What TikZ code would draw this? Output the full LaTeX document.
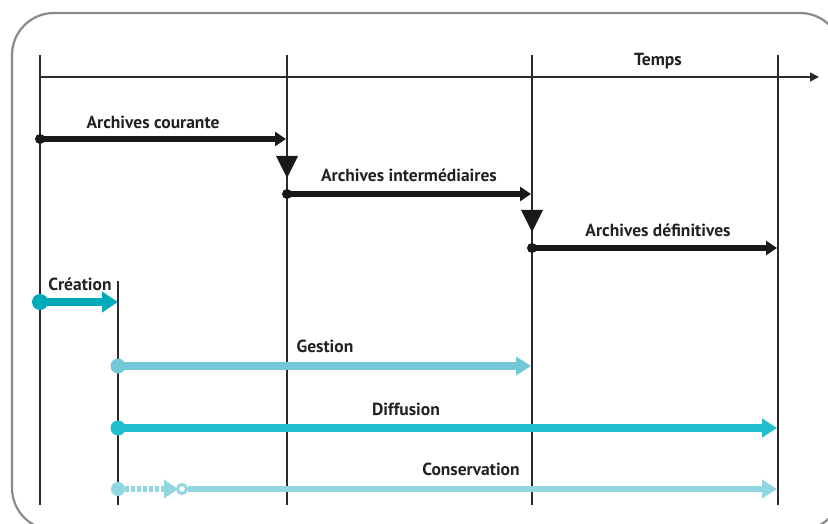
\documentclass[tikz,border=0pt]{standalone}
\usepackage{fontspec}
\setmainfont{PT Sans}
\usetikzlibrary{arrows.meta}
\definecolor{lineC}{HTML}{2B2B2B}
\definecolor{txtC}{HTML}{222222}
\definecolor{frameC}{HTML}{8A8A8A}
\definecolor{creaC}{HTML}{00AAB9}
\definecolor{gestC}{HTML}{73C8D7}
\definecolor{diffC}{HTML}{1EBECD}
\definecolor{consC}{HTML}{91D7E1}
\tikzset{
  vline/.style={draw=lineC, line width=1.5pt},
  lbl/.style={font=\bfseries\fontsize{17.5}{20}\selectfont, text=txtC, inner sep=0pt},
  blackarr/.style={draw=black!90, line width=6pt, -{Triangle[length=11pt,width=14pt]}},
  tealarr/.style={line width=7.5pt, -{Triangle[length=16pt,width=20pt]}},
  drop/.style={fill=black!90, draw=none},
}
\begin{document}
\begin{tikzpicture}[x=1pt,y=-1pt]
\useasboundingbox (0,0) rectangle (828,524);
% frame
\draw[frameC, line width=2.2pt, rounded corners=42pt] (12,13) rectangle (842,530);
% vertical lines
\coordinate (v1t) at (40,55);  \coordinate (v1b) at (40,505);
\coordinate (v2t) at (287,55); \coordinate (v2b) at (287,505);
\coordinate (v3t) at (532,55); \coordinate (v3b) at (532,505);
\coordinate (v4t) at (778,55); \coordinate (v4b) at (778,505);
\coordinate (v5t) at (118,281); \coordinate (v5b) at (118,505);
\draw[vline] (v1t) -- (v1b);
\draw[vline] (v2t) -- (v2b);
\draw[vline] (v3t) -- (v3b);
\draw[vline] (v4t) -- (v4b);
\draw[vline] (v5t) -- (v5b);
% time axis
\coordinate (t0) at (40,77); \coordinate (t1) at (819,77);
\draw[draw=lineC, line width=1.5pt, -{Triangle[length=9pt,width=9pt]}] (t0) -- (t1);
\node[lbl] (temps) at (658,61) {Temps};
% archives courante
\coordinate (ac0) at (40,139); \coordinate (ac1) at (286,139);
\fill[black!90] (ac0) circle (5pt);
\draw[blackarr] (ac0) -- (ac1);
\node[lbl] (lac) at (153,122) {Archives courante};
% drop triangle 1
\fill[drop] (276,156) -- (298,156) -- (287,178) -- cycle;
% archives intermediaires
\coordinate (ai0) at (287,194); \coordinate (ai1) at (531,194);
\fill[black!90] (ai0) circle (5pt);
\draw[blackarr] (ai0) -- (ai1);
\node[lbl] (lai) at (409,175) {Archives intermédiaires};
% drop triangle 2
\fill[drop] (521,210) -- (543,210) -- (532,232) -- cycle;
% archives definitives
\coordinate (ad0) at (532,248); \coordinate (ad1) at (777,248);
\fill[black!90] (ad0) circle (5pt);
\draw[blackarr] (ad0) -- (ad1);
\node[lbl] (lad) at (658,230) {Archives définitives};
% creation
\coordinate (cr0) at (40,302); \coordinate (cr1) at (118,302);
\fill[creaC] (cr0) circle (8pt);
\draw[tealarr, draw=creaC, fill=creaC] (cr0) -- (cr1);
\node[lbl] (lcr) at (80,284) {Création};
% gestion
\coordinate (ge0) at (118,366); \coordinate (ge1) at (531,366);
\fill[gestC] (ge0) circle (7.5pt);
\draw[tealarr, draw=gestC, fill=gestC, -{Triangle[length=15pt,width=18pt]}] (ge0) -- (ge1);
\node[lbl] (lge) at (325,346) {Gestion};
% diffusion
\coordinate (di0) at (118,428); \coordinate (di1) at (777,428);
\fill[diffC] (di0) circle (7.5pt);
\draw[tealarr, draw=diffC, fill=diffC, -{Triangle[length=15pt,width=18pt]}] (di0) -- (di1);
\node[lbl] (ldi) at (406,409) {Diffusion};
% conservation
\coordinate (co0) at (118,489); \coordinate (coa) at (178,489);
\coordinate (cor) at (182,489); \coordinate (cos) at (188,489);
\coordinate (co1) at (777,489);
\fill[consC] (co0) circle (7pt);
\draw[consC, line width=6pt, dash pattern=on 4pt off 2pt, -{Triangle[length=14pt,width=18pt]}] (125,489) -- (coa);
\draw[consC, line width=3pt] (cor) circle (4.5pt);
\draw[consC, line width=6.5pt, -{Triangle[length=15pt,width=18pt]}] (cos) -- (co1);
\node[lbl] (lco) at (471,469) {Conservation};
\end{tikzpicture}
\end{document}
